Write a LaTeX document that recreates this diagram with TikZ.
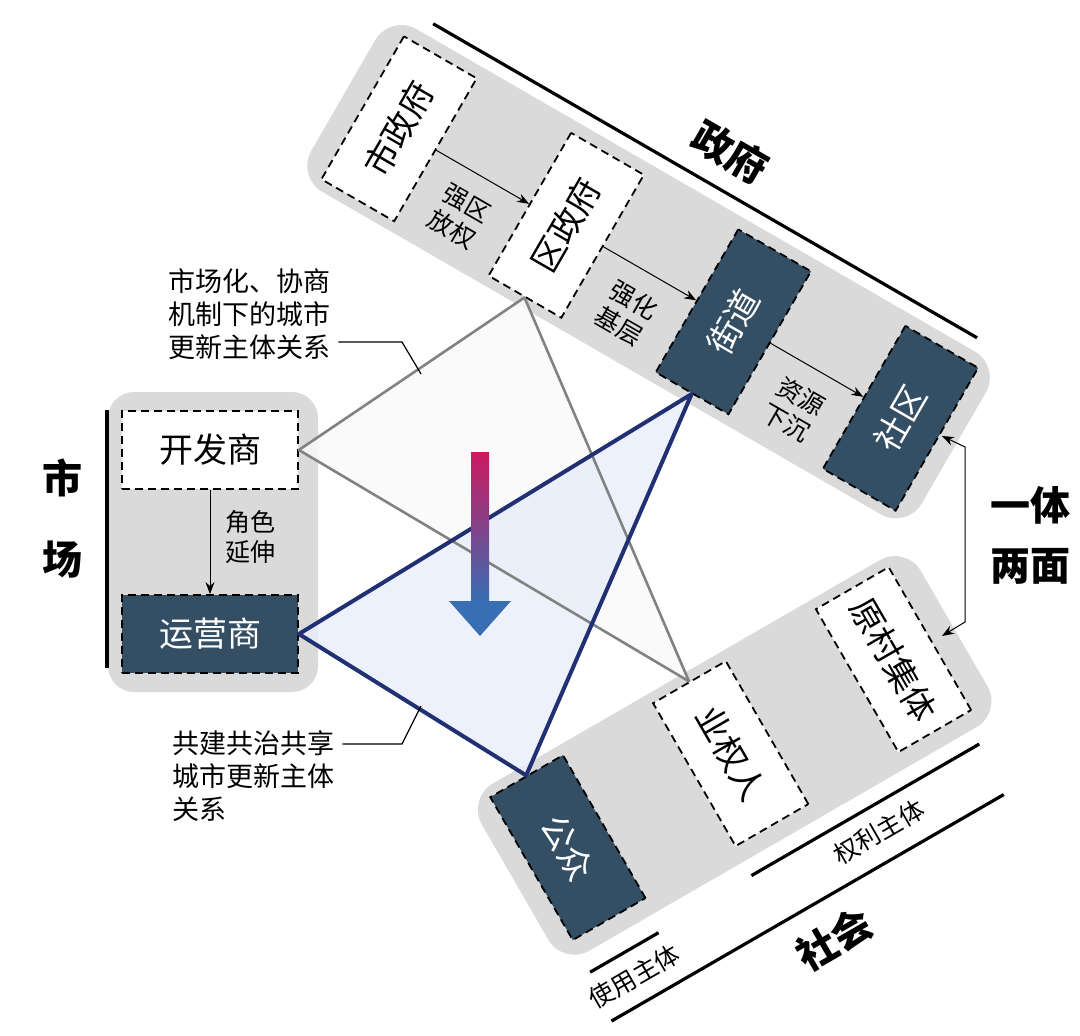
\documentclass[tikz,border=0pt]{standalone}
\usepackage{fontspec}
\setmainfont{Noto Sans CJK SC}
\usetikzlibrary{arrows.meta}
\definecolor{bandgray}{RGB}{218,218,218}
\definecolor{darkbox}{RGB}{52,78,100}
\definecolor{navy}{RGB}{32,48,115}
\definecolor{trigray}{RGB}{130,130,130}
\definecolor{lightblue}{RGB}{232,237,250}
\definecolor{magentaA}{RGB}{205,25,95}
\definecolor{blueA}{RGB}{55,110,180}
\tikzset{
 boxbase/.style={draw=black, line width=1.8pt, dash pattern=on 8pt off 5pt, minimum width=165pt, minimum height=84pt, inner sep=0pt, font=\fontsize{34}{36}\selectfont},
 wbox/.style={boxbase, fill=white},
 dbox/.style={boxbase, fill=darkbox, text=white},
 hbox/.style={boxbase, minimum width=176pt, minimum height=78pt},
 smalllab/.style={font=\fontsize{25}{30}\selectfont, align=center, inner sep=0pt},
 annot/.style={font=\fontsize{27}{33}\selectfont, align=left, inner sep=0pt, anchor=north west},
 biglab/.style={font=\fontsize{40}{44}\selectfont\bfseries, inner sep=0pt},
 flow/.style={-{Stealth[length=12pt,width=9pt]}, line width=1pt},
 blackline/.style={line width=3.2pt},
}
\begin{document}
\begin{tikzpicture}[x=1pt,y=1pt]
\useasboundingbox (0,0) rectangle (1080,-1036);
% ---------- government band ----------
\begin{scope}[rotate=-30]
 \fill[bandgray, rounded corners=30] (345,183) rectangle (1050,-5);
 \draw[blackline] (387,196) -- (1015,196);
 \node[biglab, rotate=-30] (gov) at (709,233) {政府};
 \node[wbox, rotate=60] (shi) at (410,88) {市政府};
 \node[wbox, rotate=60] (qu) at (603,88) {区政府};
 \node[dbox, rotate=60] (jie) at (796,88) {街道};
 \node[dbox, rotate=60] (she) at (989,88) {社区};
 \node[smalllab, rotate=-30] (l1) at (506,42) {强区\\放权};
 \node[smalllab, rotate=-30] (l2) at (699,42) {强化\\基层};
 \node[smalllab, rotate=-30] (l3) at (892,42) {资源\\下沉};
\end{scope}
\draw[flow] (shi.south) -- (qu.north);
\draw[flow] (qu.south) -- (jie.north);
\draw[flow] (jie.south) -- (she.north);
% ---------- society band ----------
\begin{scope}[rotate=30]
 \fill[bandgray, rounded corners=30] (5,-925) rectangle (512,-1118);
 \draw[blackline] (25,-1137) -- (104,-1137);
 \draw[blackline] (213,-1134) -- (476,-1134);
 \draw[blackline] (19,-1190) -- (472,-1190);
 \node[smalllab, rotate=30] (use) at (61,-1163) {使用主体};
 \node[smalllab, rotate=30] (right) at (345,-1160) {权利主体};
 \node[biglab, rotate=30] (soc) at (253,-1230) {社会};
 \node[dbox, rotate=-60] (gz) at (68,-1018) {公众};
 \node[wbox, rotate=-60] (yq) at (256,-1018) {业权人};
 \node[wbox, rotate=-60] (yc) at (444,-1018) {原村集体};
\end{scope}
% ---------- market ----------
\fill[bandgray, rounded corners=26] (108,-392) rectangle (318,-692);
\draw[blackline] (107,-410) -- (107,-668);
\node[biglab] (m1) at (62,-478) {市};
\node[biglab] (m2) at (62,-560) {场};
\node[wbox, hbox] (kf) at (210,-450) {开发商};
\node[dbox, hbox] (yy) at (210,-634) {运营商};
\draw[flow] (kf.south) -- (yy.north);
\node[smalllab] (jsy) at (250,-537) {角色\\延伸};
% ---------- one body two faces ----------
\node[biglab, align=center, font=\fontsize{40}{60}\selectfont\bfseries] (ytlm) at (1030,-535) {一体\\两面};
\coordinate (ra) at (965,-447);
\coordinate (rb) at (965,-622);
\coordinate (rs) at (942,-436);
\coordinate (rt) at (942,-636);
\draw[{Stealth[length=12pt,width=9pt]}-{Stealth[length=12pt,width=9pt]}, line width=1pt]
  (rs) -- (ra) -- (rb) -- (rt);
% ---------- triangles ----------
\fill[gray!5, opacity=0.85] (kf.east) -- (qu.west) -- (yq.west) -- cycle;
\fill[lightblue, opacity=0.8] (yy.east) -- (jie.west) -- (gz.west) -- cycle;
\draw[trigray, line width=2.6pt, line join=round] (kf.east) -- (qu.west) -- (yq.west) -- cycle;
\draw[navy, line width=4pt, line join=round] (yy.east) -- (jie.west) -- (gz.west) -- cycle;
% gradient arrow
\shade[top color=magentaA, bottom color=blueA] (471,-452) rectangle (489,-602);
\fill[blueA] (449,-601) -- (511,-601) -- (480,-636) -- cycle;
% ---------- annotations ----------
\node[annot] (a1) at (168,-268) {市场化、协商\\机制下的城市\\更新主体关系};
\coordinate (a1b) at (402,-342);
\coordinate (a1c) at (421,-374);
\draw[line width=1.2pt] (a1.east |- a1b) ++(8,0) -- (a1b) -- (a1c);
\node[annot] (a2) at (172,-730) {共建共治共享\\城市更新主体\\关系};
\coordinate (a2b) at (402,-744);
\coordinate (a2c) at (421,-706);
\draw[line width=1.2pt] (a2.east |- a2b) ++(8,0) -- (a2b) -- (a2c);
\end{tikzpicture}
\end{document}
